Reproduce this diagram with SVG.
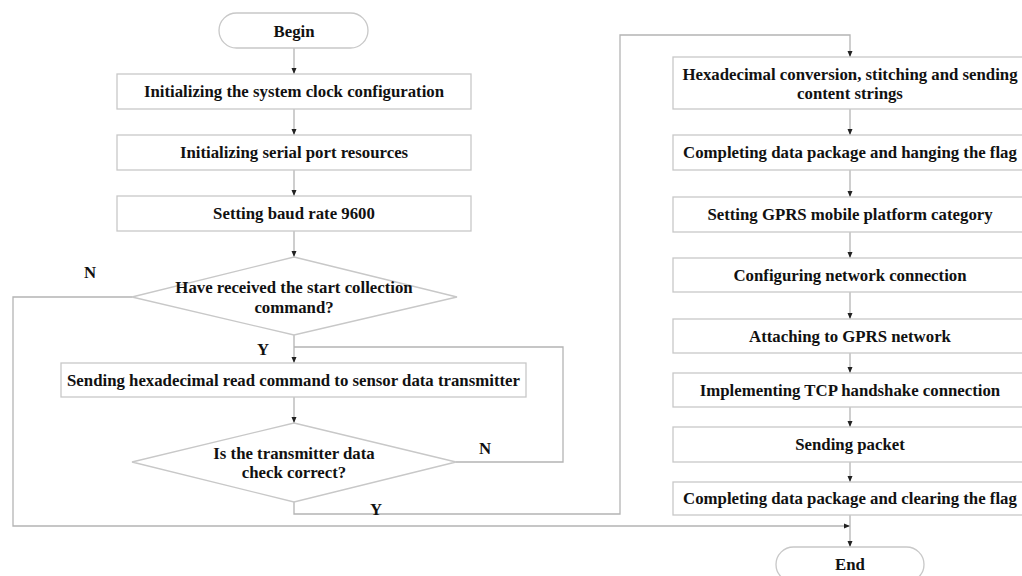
<svg xmlns="http://www.w3.org/2000/svg" width="1022" height="576" viewBox="0 0 1022 576">
<style>
.box{fill:#fff;stroke:#c8c8c8;stroke-width:1.3}
.t{font-family:"Liberation Serif","Times New Roman",serif;font-weight:bold;font-size:16.8px;fill:#111;text-anchor:middle}
.c{fill:none;stroke:#b4b4b4;stroke-width:1.3}
</style>
<defs>
<marker id="ah" markerUnits="userSpaceOnUse" markerWidth="7" markerHeight="7" refX="6" refY="3" orient="auto">
<path d="M0,0.5 L6,3 L0,5.5 z" fill="#222"/>
</marker>
</defs>
<rect width="1022" height="576" fill="#fff"/>
<g id="connectors">
<path class="c" d="M294,48 V74" marker-end="url(#ah)"/>
<path class="c" d="M294,109 V135" marker-end="url(#ah)"/>
<path class="c" d="M294,170 V196" marker-end="url(#ah)"/>
<path class="c" d="M294,231 V257" marker-end="url(#ah)"/>
<path class="c" d="M294,335 V363" marker-end="url(#ah)"/>
<path class="c" d="M294,397 V423" marker-end="url(#ah)"/>
<path class="c" d="M456,462 H563 V347 H294"/>
<path class="c" d="M294,502 V514 H620 V35 H850 V57" marker-end="url(#ah)"/>
<path class="c" d="M132,297 H13 V526 H850" marker-end="url(#ah)"/>
<path class="c" d="M850,109 V135" marker-end="url(#ah)"/>
<path class="c" d="M850,170 V197" marker-end="url(#ah)"/>
<path class="c" d="M850,232 V258" marker-end="url(#ah)"/>
<path class="c" d="M850,292 V319" marker-end="url(#ah)"/>
<path class="c" d="M850,353 V373" marker-end="url(#ah)"/>
<path class="c" d="M850,407 V427" marker-end="url(#ah)"/>
<path class="c" d="M850,462 V482" marker-end="url(#ah)"/>
<path class="c" d="M850,515 V547" marker-end="url(#ah)"/>
<text class="t" x="90" y="278">N</text>
<text class="t" x="263" y="355">Y</text>
<text class="t" x="485" y="454">N</text>
<text class="t" x="376" y="515">Y</text>
</g>
<g id="begin">
<rect class="box" x="219" y="13" width="149" height="35" rx="17.5"/>
<text class="t" x="294" y="36.5">Begin</text>
</g>
<g id="clock">
<rect class="box" x="117" y="74" width="354" height="35"/>
<text class="t" x="294" y="97">Initializing the system clock configuration</text>
</g>
<g id="serial">
<rect class="box" x="117" y="135" width="354" height="35"/>
<text class="t" x="294" y="158">Initializing serial port resources</text>
</g>
<g id="baud">
<rect class="box" x="117" y="196" width="354" height="35"/>
<text class="t" x="294" y="219">Setting baud rate 9600</text>
</g>
<g id="start-check">
<polygon class="box" points="294,257 457,297 294,335 132,297"/>
<text class="t" x="294" y="292.5">Have received the start collection</text>
<text class="t" x="294" y="312.5">command?</text>
</g>
<g id="send-read">
<rect class="box" x="61" y="363" width="465" height="34"/>
<text class="t" x="293.5" y="385.5">Sending hexadecimal read command to sensor data transmitter</text>
</g>
<g id="data-check">
<polygon class="box" points="294,423 456,462 294,502 132,462"/>
<text class="t" x="294" y="458.5">Is the transmitter data</text>
<text class="t" x="294" y="477.5">check correct?</text>
</g>
<g id="hex-conv">
<rect class="box" x="673" y="57" width="354" height="52"/>
<text class="t" x="850" y="79.5">Hexadecimal conversion, stitching and sending</text>
<text class="t" x="850" y="98.5">content strings</text>
</g>
<g id="hang-flag">
<rect class="box" x="673" y="135" width="354" height="35"/>
<text class="t" x="850" y="158">Completing data package and hanging the flag</text>
</g>
<g id="gprs-cat">
<rect class="box" x="673" y="197" width="354" height="35"/>
<text class="t" x="850" y="220">Setting GPRS mobile platform category</text>
</g>
<g id="net-conf">
<rect class="box" x="673" y="258" width="354" height="34"/>
<text class="t" x="850" y="280.5">Configuring network connection</text>
</g>
<g id="attach">
<rect class="box" x="673" y="319" width="354" height="34"/>
<text class="t" x="850" y="341.5">Attaching to GPRS network</text>
</g>
<g id="tcp">
<rect class="box" x="673" y="373" width="354" height="34"/>
<text class="t" x="850" y="395.5">Implementing TCP handshake connection</text>
</g>
<g id="send-packet">
<rect class="box" x="673" y="427" width="354" height="35"/>
<text class="t" x="850" y="450">Sending packet</text>
</g>
<g id="clear-flag">
<rect class="box" x="673" y="482" width="354" height="33"/>
<text class="t" x="850" y="504">Completing data package and clearing the flag</text>
</g>
<g id="end">
<rect class="box" x="776" y="547" width="148" height="35" rx="17.5"/>
<text class="t" x="850" y="569.5">End</text>
</g>
</svg>
